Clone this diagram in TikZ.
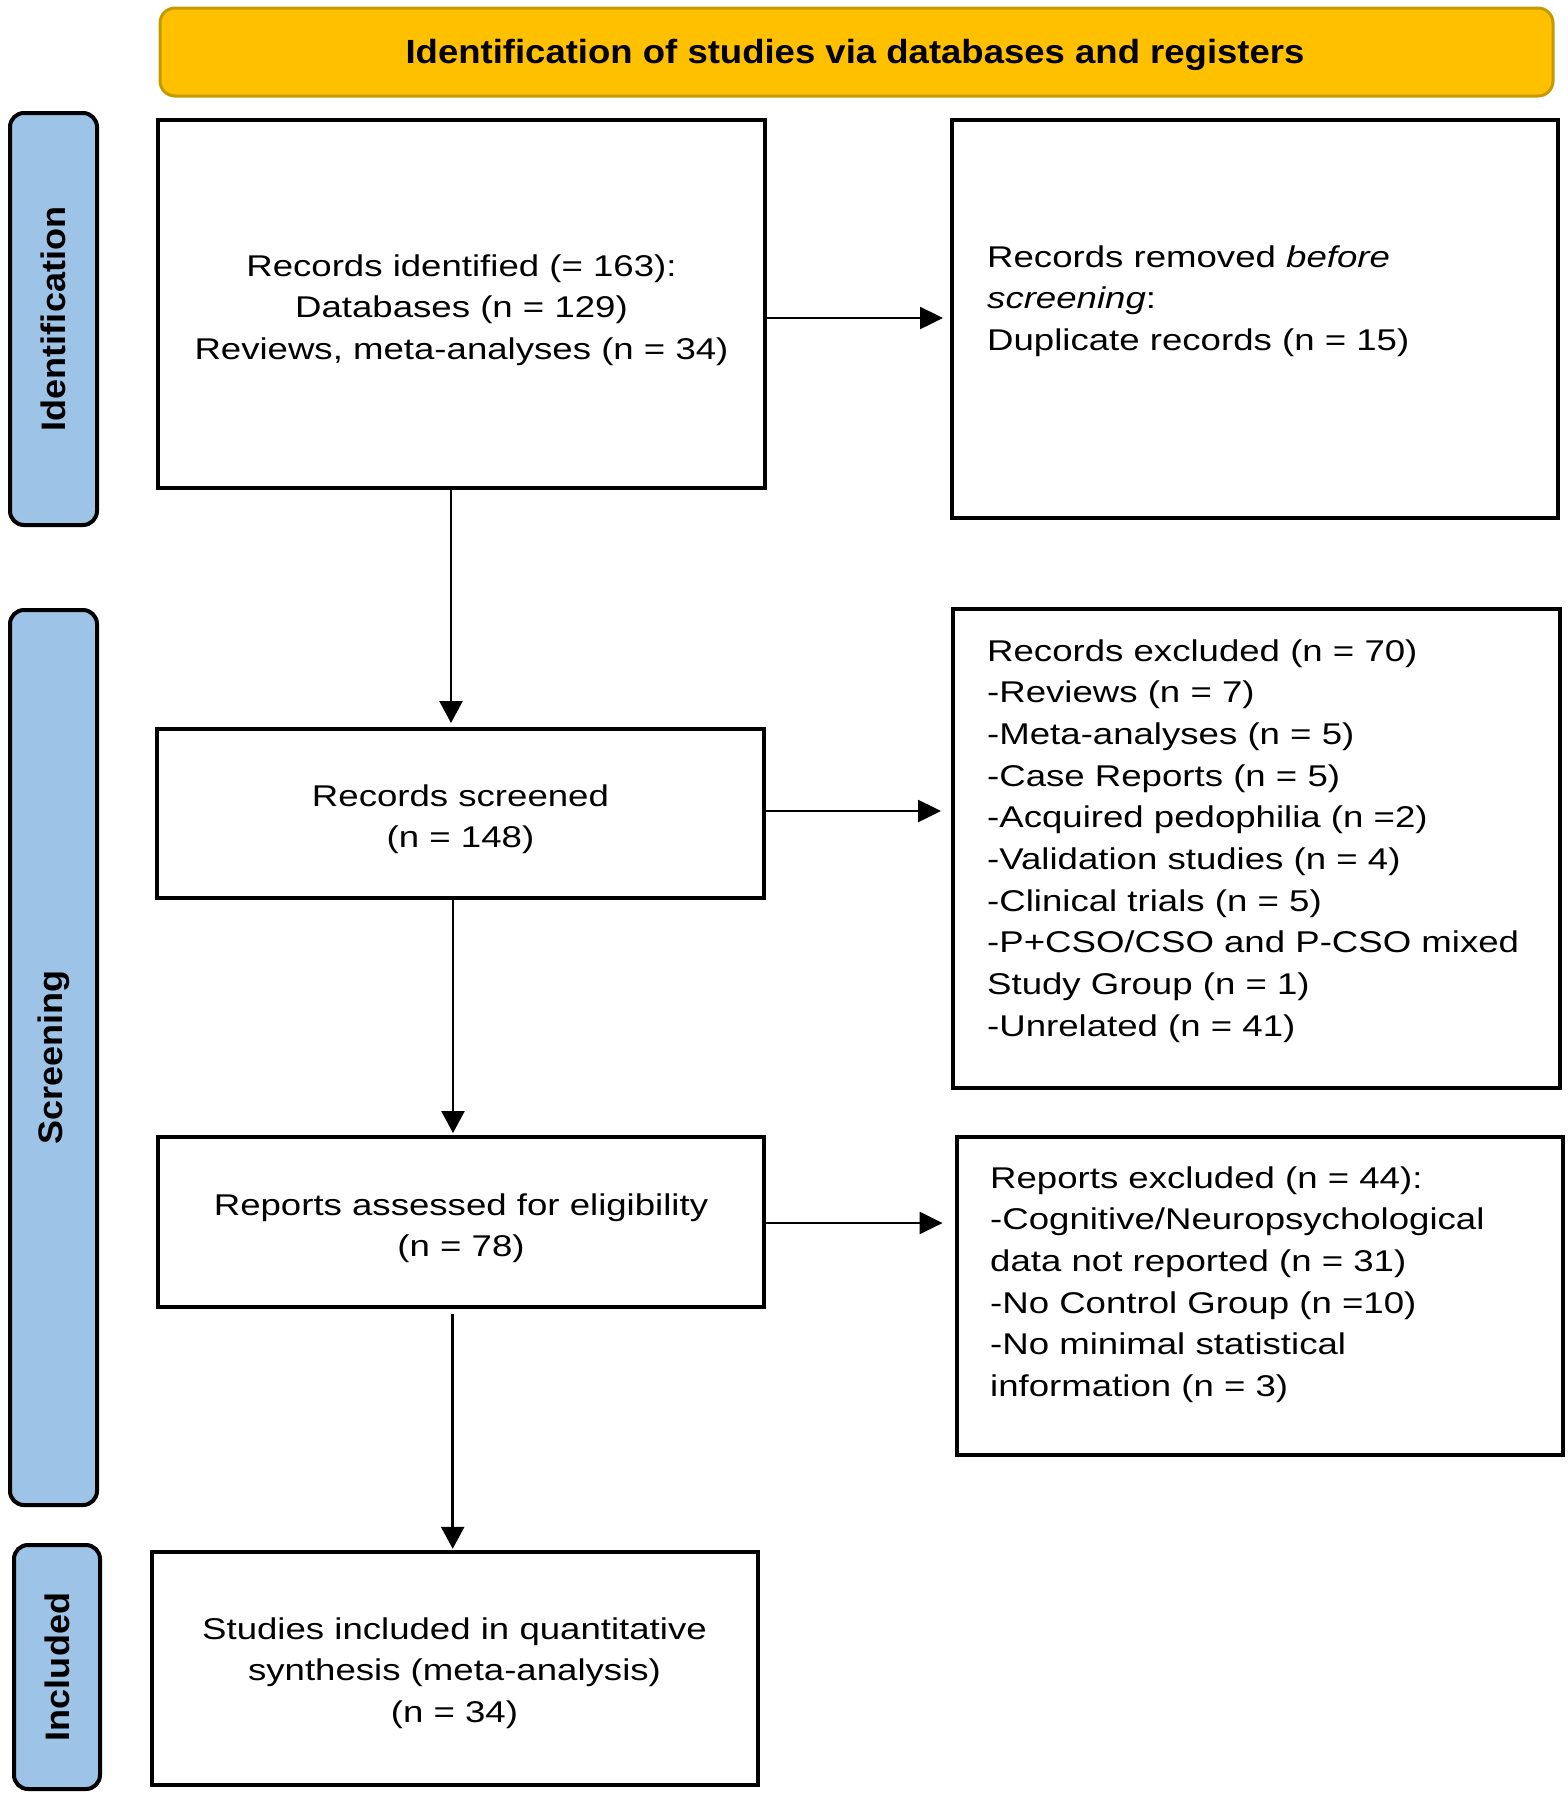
\documentclass[tikz,border=0pt]{standalone}
\usepackage{fontspec}
\setmainfont{Liberation Sans}[FakeStretch=1.22]
\newfontfamily\hdfont{Liberation Sans}[FakeStretch=1.09]
\newfontfamily\sidefont{Liberation Sans}[FakeStretch=1.06]
\usetikzlibrary{arrows.meta,calc}
\definecolor{hdfill}{HTML}{FFC000}
\definecolor{hdline}{HTML}{C59A00}
\definecolor{sidefill}{HTML}{9DC3E6}
\tikzset{
  flowbox/.style={draw=black, line width=4pt, inner sep=0pt, fill=white},
  sidebox/.style={draw=black, fill=sidefill, line width=4pt, rounded corners=14pt, inner sep=0pt},
  sidetext/.style={rotate=90, inner sep=0pt, font=\sidefont\bfseries\fontsize{34}{40}\selectfont},
  bodytext/.style={inner sep=0pt, font=\fontsize{30}{41.7}\selectfont},
  harr/.style={draw=black, line width=2.5pt, -{Triangle[length=23pt,width=22pt]}},
  varr/.style={draw=black, line width=2.5pt, -{Triangle[length=22pt,width=23pt]}}
}
\begin{document}
\begin{tikzpicture}[x=1pt,y=-1pt]
\useasboundingbox (0,0) rectangle (1568,1794);
% header
\node[draw=hdline, fill=hdfill, line width=3pt, rounded corners=15pt, inner sep=0pt,
      minimum width=1393pt, minimum height=88pt] (hdr) at (856.5,52) {};
\node[inner sep=0pt, anchor=base, font=\hdfont\bfseries\fontsize{33.5}{40}\selectfont] (hdrtext) at (855,63.3)
  {Identification of studies via databases and registers};
% side labels
\node[sidebox, minimum width=87pt, minimum height=412pt] (l1) at (53.5,319) {};
\node[sidetext] (l1t) at (l1.center) {Identification};
\node[sidebox, minimum width=87pt, minimum height=895pt] (l2) at (53.5,1057.5) {};
\node[sidetext] (l2t) at (l2.center) {Screening};
\node[sidebox, minimum width=86pt, minimum height=244pt] (l3) at (57,1667) {};
\node[sidetext] (l3t) at (l3.center) {Included};
% boxes
\node[flowbox, minimum width=607pt, minimum height=368pt] (b1) at (461.5,304) {};
\node[flowbox, minimum width=606pt, minimum height=398pt] (b2) at (1255,319) {};
\node[flowbox, minimum width=607pt, minimum height=169pt] (b3) at (460.5,813.5) {};
\node[flowbox, minimum width=607pt, minimum height=479pt] (b4) at (1256.5,848.5) {};
\node[flowbox, minimum width=606pt, minimum height=170pt] (b5) at (461,1222) {};
\node[flowbox, minimum width=606pt, minimum height=318pt] (b6) at (1259.6,1295.8) {};
\node[flowbox, minimum width=606pt, minimum height=233pt] (b7) at (454.5,1668.3) {};
% texts
\node[bodytext, anchor=base] (t1) at (461.5,276)
  {\begin{tabular}[t]{@{}c@{}}Records identified (= 163):\\Databases (n = 129)\\Reviews, meta-analyses (n = 34)\end{tabular}};
\node[bodytext, anchor=base west] (t2) at (987,267)
  {\begin{tabular}[t]{@{}l@{}}Records removed \emph{before}\\\emph{screening}:\\Duplicate records (n = 15)\end{tabular}};
\node[bodytext, anchor=base] (t3) at (460.5,806)
  {\begin{tabular}[t]{@{}c@{}}Records screened\\(n = 148)\end{tabular}};
\node[bodytext, anchor=base west] (t4) at (987,661)
  {\begin{tabular}[t]{@{}l@{}}Records excluded (n = 70)\\-Reviews (n = 7)\\-Meta-analyses (n = 5)\\-Case Reports (n = 5)\\-Acquired pedophilia (n =2)\\-Validation studies (n = 4)\\-Clinical trials (n = 5)\\-P+CSO/CSO and P-CSO mixed\\Study Group (n = 1)\\-Unrelated (n = 41)\end{tabular}};
\node[bodytext, anchor=base] (t5) at (461,1215)
  {\begin{tabular}[t]{@{}c@{}}Reports assessed for eligibility\\(n = 78)\end{tabular}};
\node[bodytext, anchor=base west] (t6) at (990,1188)
  {\begin{tabular}[t]{@{}l@{}}Reports excluded (n = 44):\\-Cognitive/Neuropsychological\\data not reported (n = 31)\\-No Control Group (n =10)\\-No minimal statistical\\information (n = 3)\end{tabular}};
\node[bodytext, anchor=base] (t7) at (454.5,1639)
  {\begin{tabular}[t]{@{}c@{}}Studies included in quantitative\\synthesis (meta-analysis)\\(n = 34)\end{tabular}};
% connectors
\draw[harr, shorten >=7pt] ([yshift=-14pt]b1.east) -- ([yshift=-14pt]b1.east -| b2.west);
\draw[harr, shorten >=10pt] ([yshift=2.5pt]b3.east) -- ([yshift=2.5pt]b3.east -| b4.west);
\draw[harr, shorten >=12pt] ([yshift=-1pt]b5.east) -- ([yshift=-1pt]b5.east -| b6.west);
\draw[varr, shorten >=4pt] ([xshift=-10.5pt]b1.south) -- ([xshift=-10.5pt]b1.south |- b3.north);
\draw[varr, shorten >=2pt] ([xshift=-7.5pt]b3.south) -- ([xshift=-7.5pt]b3.south |- b5.north);
\draw[varr, shorten <=5pt, shorten >=1pt] ([xshift=-8.3pt]b5.south) -- ([xshift=-8.3pt]b5.south |- b7.north);
\end{tikzpicture}
\end{document}
